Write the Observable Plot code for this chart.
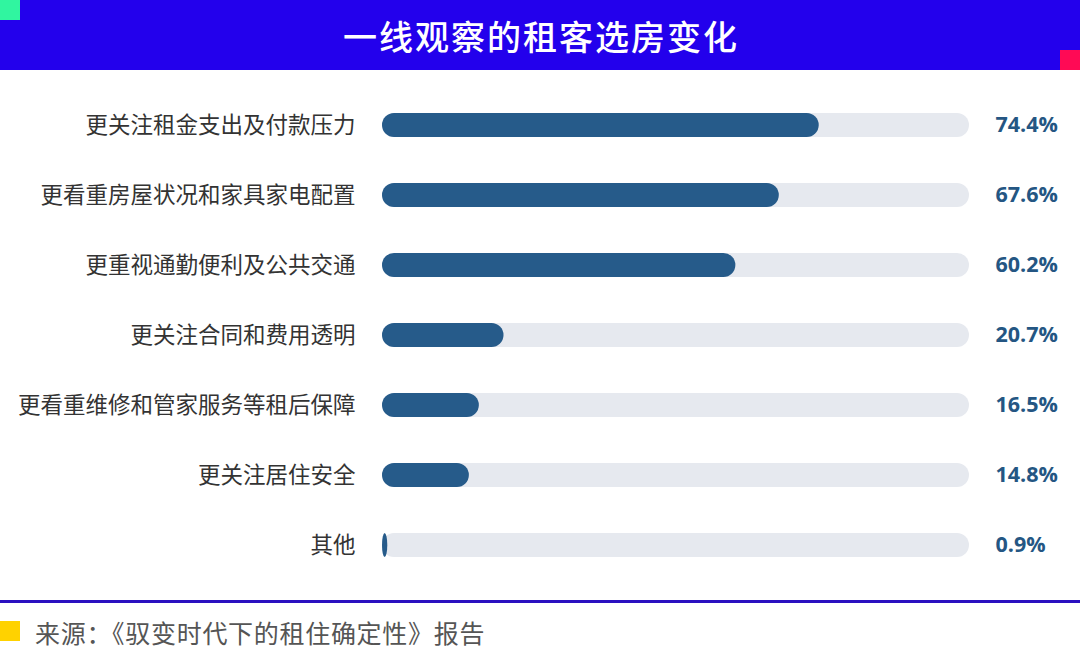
<!DOCTYPE html>
<html>
<head>
<meta charset="utf-8">
<script src="https://cdn.jsdelivr.net/npm/d3@7"></script>
<script src="https://cdn.jsdelivr.net/npm/@observablehq/plot@0.6"></script>
<style>
  html, body { margin: 0; padding: 0; background: #fff; }
  #wrap { position: relative; width: 1080px; height: 668px; overflow: hidden; font-family: "Noto Sans CJK SC", "Noto Sans", sans-serif; }
  #band { position: absolute; left: 0; top: 0; width: 1080px; height: 70px; background: #2300ec; }
  #band .g { position: absolute; left: 0; top: 0; width: 20px; height: 20px; background: #30f5a0; }
  #band .r { position: absolute; right: 0; top: 50px; width: 20px; height: 20px; background: #ff0a55; }
  #title { position: absolute; left: 0; top: 0; width: 1080px; height: 70px; line-height: 72px; text-align: center; color: #fff; font-size: 34px; letter-spacing: 2px; text-indent: 2px; font-weight: 500; }
  #chart { position: absolute; left: 0; top: 70px; }
  #rule { position: absolute; left: 0; top: 600px; width: 1080px; height: 3px; background: #2a10c0; }
  #ybox { position: absolute; left: 0; top: 621px; width: 20px; height: 20px; background: #ffd200; }
  #caption { position: absolute; left: 35px; top: 616px; font-size: 25px; letter-spacing: 0.7px; line-height: 32px; color: #555; }
</style>
</head>
<body>
<div id="wrap">
  <div id="band"><div class="g"></div><div class="r"></div></div>
  <div id="title">一线观察的租客选房变化</div>
  <div id="chart"></div>
  <div id="rule"></div>
  <div id="ybox"></div>
  <div id="caption">来源：《驭变时代下的租住确定性》报告</div>
</div>
<script>
const categories = [
  "更关注租金支出及付款压力",
  "更看重房屋状况和家具家电配置",
  "更重视通勤便利及公共交通",
  "更关注合同和费用透明",
  "更看重维修和管家服务等租后保障",
  "更关注居住安全",
  "其他"
];
const values = [74.4, 67.6, 60.2, 20.7, 16.5, 14.8, 0.9];
const valueLabels = ["74.4%", "67.6%", "60.2%", "20.7%", "16.5%", "14.8%", "0.9%"];

const data = categories.map((c, i) => ({cat: c, v: values[i], label: valueLabels[i], full: 100}));

const step = 70.33;
const pInner = 0.66, pOuter = 0.5;
const rangeLen = step * (categories.length - pInner + 2 * pOuter);
const firstCenter = 54;
const start = firstCenter - step * pOuter - step * (1 - pInner) / 2;

const chart = Plot.plot({
  width: 1080,
  height: 530,
  marginLeft: 382,
  marginRight: 111,
  marginTop: 0,
  marginBottom: 0,
  style: {background: "transparent", overflow: "visible"},
  x: {domain: [0, 100], axis: null},
  y: {domain: categories, range: [start, start + rangeLen], paddingInner: pInner, paddingOuter: pOuter, axis: null},
  marks: [
    Plot.barX(data, {x: "full", y: "cat", fill: "#e6e9ef", rx: 12}),
    Plot.barX(data, {x: "v", y: "cat", fill: "#265b8a", rx: 12}),
    Plot.text(data, {x: 0, y: "cat", text: "cat", textAnchor: "end", dx: -27, fontSize: 22.5, fill: "#333", fontFamily: "'Noto Sans CJK SC', sans-serif"}),
    Plot.text(data, {x: 100, y: "cat", text: "label", textAnchor: "start", dx: 26, fontSize: 21.5, fontWeight: "bold", fill: "#245683", fontFamily: "'Open Sans', sans-serif"})
  ]
});
document.getElementById("chart").appendChild(chart);
</script>
</body>
</html>
